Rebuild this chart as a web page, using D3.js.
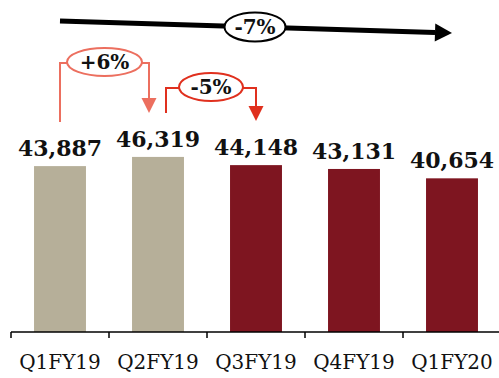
<!DOCTYPE html>
<html>
<head>
<meta charset="utf-8">
<script src="https://cdn.jsdelivr.net/npm/d3@7/dist/d3.min.js"></script>
<style>
  html, body { margin: 0; padding: 0; background: #fff; }
  svg { display: block; }
  text { font-family: "DejaVu Serif", "Liberation Serif", serif; }
</style>
</head>
<body>
<svg id="chart" width="499" height="378"></svg>
<script>
// Quarterly volumes
const quarters = ["Q1FY19", "Q2FY19", "Q3FY19", "Q4FY19", "Q1FY20"];
const volumes = [43887, 46319, 44148, 43131, 40654];
const fiscalYear = ["FY19a", "FY19a", "FY19b", "FY19b", "FY20"];

// Quarter-on-quarter changes shown as brackets
const qoqFrom = ["Q1FY19", "Q2FY19"];
const qoqTo = ["Q2FY19", "Q3FY19"];
const qoqLabels = ["+6%", "-5%"];

// Overall change from first to last quarter
const overallLabel = "-7%";

const W = 499, H = 378;
const baseY = 332;
const svg = d3.select("#chart");

const x = d3.scaleBand()
  .domain(quarters)
  .range([11, 501])
  .paddingInner(0.47)
  .paddingOuter(0.235);

const y = d3.scaleLinear()
  .domain([0, 50000])
  .range([baseY, 143]);

const barColor = d => d === "FY19a" ? "#b6af99" : "#7e1520";
const cx = q => x(q) + x.bandwidth() / 2;

// Bars
svg.append("g")
  .selectAll("rect")
  .data(quarters)
  .join("rect")
  .attr("x", d => x(d))
  .attr("width", x.bandwidth())
  .attr("y", (d, i) => y(volumes[i]))
  .attr("height", (d, i) => y(0) - y(volumes[i]))
  .attr("fill", (d, i) => barColor(fiscalYear[i]));

// Value labels
svg.append("g")
  .selectAll("text")
  .data(quarters)
  .join("text")
  .attr("x", d => cx(d))
  .attr("y", (d, i) => y(volumes[i]) - 10)
  .attr("text-anchor", "middle")
  .attr("font-size", 22)
  .attr("font-weight", "bold")
  .attr("fill", "#111")
  .text((d, i) => d3.format(",")(volumes[i]));

// Axis: baseline with ticks at category boundaries
const step = x.step();
const gap = step * x.paddingInner() / 2;
const axis = svg.append("g");
axis.append("line")
  .attr("x1", x(quarters[0]) - gap).attr("x2", W)
  .attr("y1", baseY).attr("y2", baseY)
  .attr("stroke", "#000").attr("stroke-width", 1.5);
axis.selectAll("line.tick")
  .data(quarters)
  .join("line")
  .attr("class", "tick")
  .attr("x1", d => x(d) - gap).attr("x2", d => x(d) - gap)
  .attr("y1", baseY).attr("y2", baseY + 6)
  .attr("stroke", "#000").attr("stroke-width", 1.5);
axis.selectAll("text")
  .data(quarters)
  .join("text")
  .attr("x", d => cx(d))
  .attr("y", 369)
  .attr("text-anchor", "middle")
  .attr("font-size", 20)
  .attr("fill", "#111")
  .text(d => d);

// Quarter-on-quarter brackets
const bracketStyle = [
  { color: "#ec6f5f", y: 63, leftBottom: 122, tip: 113, dl: 0, dr: -9 },
  { color: "#e0301e", y: 88, leftBottom: 113, tip: 121, dl: 8, dr: 0 }
];
qoqLabels.forEach((label, i) => {
  const s = bracketStyle[i];
  const x1 = cx(qoqFrom[i]) + s.dl;
  const x2 = cx(qoqTo[i]) + s.dr;
  const g = svg.append("g");
  g.append("path")
    .attr("d", `M${x1},${s.leftBottom} V${s.y} H${x2} V${s.tip - 13}`)
    .attr("fill", "none")
    .attr("stroke", s.color)
    .attr("stroke-width", 2);
  g.append("path")
    .attr("d", `M${x2 - 7.5},${s.tip - 15} L${x2 + 7.5},${s.tip - 15} L${x2},${s.tip} Z`)
    .attr("fill", s.color);
  const mx = (x1 + x2) / 2;
  g.append("ellipse")
    .attr("cx", mx).attr("cy", s.y - 1)
    .attr("rx", i === 0 ? 37.5 : 32).attr("ry", 14)
    .attr("fill", "#fff")
    .attr("stroke", s.color)
    .attr("stroke-width", 2);
  g.append("text")
    .attr("x", mx).attr("y", s.y + 6)
    .attr("text-anchor", "middle")
    .attr("font-size", 20)
    .attr("font-weight", "bold")
    .attr("fill", "#111")
    .text(label);
});

// Overall trend arrow
const ax1 = cx(quarters[0]), ay1 = 21;
const ax2 = 452, ay2 = 33;
const trend = svg.append("g");
const ang = Math.atan2(ay2 - ay1, ax2 - ax1);
const headLen = 17, headHalf = 9;
const bx = ax2 - headLen * Math.cos(ang), by = ay2 - headLen * Math.sin(ang);
trend.append("line")
  .attr("x1", ax1).attr("y1", ay1)
  .attr("x2", bx).attr("y2", by)
  .attr("stroke", "#000").attr("stroke-width", 5);
trend.append("path")
  .attr("d", `M${bx + headHalf * Math.sin(ang)},${by - headHalf * Math.cos(ang)}
              L${ax2},${ay2}
              L${bx - headHalf * Math.sin(ang)},${by + headHalf * Math.cos(ang)} Z`)
  .attr("fill", "#000");
const tmx = 255, tmy = ay1 + (ay2 - ay1) * (tmx - ax1) / (ax2 - ax1);
trend.append("ellipse")
  .attr("cx", tmx).attr("cy", tmy)
  .attr("rx", 30.5).attr("ry", 14.5)
  .attr("fill", "#fff")
  .attr("stroke", "#000")
  .attr("stroke-width", 2);
trend.append("text")
  .attr("x", tmx).attr("y", tmy + 7)
  .attr("text-anchor", "middle")
  .attr("font-size", 20)
  .attr("font-weight", "bold")
  .attr("fill", "#111")
  .text(overallLabel);
</script>
</body>
</html>
